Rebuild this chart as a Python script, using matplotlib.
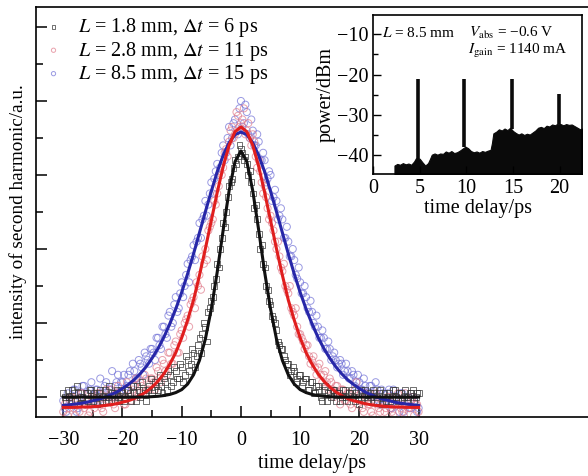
import numpy as np
import matplotlib
matplotlib.use("Agg")
import matplotlib.pyplot as plt
from matplotlib.ticker import FixedLocator, NullFormatter

plt.rcParams['font.family'] = ['Liberation Serif', 'DejaVu Serif']
plt.rcParams['mathtext.fontset'] = 'stix'

# ---------------- data: main autocorrelation traces ----------------
delay_pts = np.linspace(-30, 30, 121)       # measured delay grid (scan 1), ps
delay_pts2 = np.linspace(-29.75, 29.75, 120)  # measured delay grid (scan 2), ps
delay_fit = np.linspace(-30, 30, 61)        # fit curve grid, ps

labels = [r'$L$ = 1.8 mm, $\Delta t$ = 6 ps',
          r'$L$ = 2.8 mm, $\Delta t$ = 11 ps',
          r'$L$ = 8.5 mm, $\Delta t$ = 15 ps']

sh_18mm = [0.01, -0.01, 0.00, 0.02, -0.01, 0.01, 0.00, -0.02, 0.01, 0.02,
           -0.01, 0.00, 0.01, -0.01, 0.02, 0.00, -0.01, 0.01, 0.02, -0.01,
           0.01, 0.00, 0.02, -0.01, 0.01, 0.03, 0.00, 0.02, -0.01, 0.03,
           0.01, 0.04, 0.02, 0.03, 0.05, 0.02, 0.06, 0.04, 0.07, 0.05,
           0.08, 0.06, 0.10, 0.09, 0.12, 0.11, 0.16, 0.17, 0.19, 0.23,
           0.26, 0.30, 0.36, 0.40, 0.47, 0.50, 0.57, 0.59, 0.64, 0.65,
           0.67, 0.64, 0.63, 0.61, 0.55, 0.52, 0.44, 0.41, 0.35, 0.29,
           0.25, 0.21, 0.18, 0.14, 0.13, 0.10, 0.09, 0.07, 0.07, 0.05,
           0.06, 0.04, 0.05, 0.02, 0.04, 0.01, 0.03, 0.00, 0.02, -0.01,
           0.01, 0.02, -0.01, 0.01, 0.00, 0.02, -0.01, 0.01, 0.00, 0.01,
           -0.02, 0.01, 0.02, -0.01, 0.00, 0.01, -0.01, 0.02, 0.00, -0.01,
           0.01, 0.00, 0.02, -0.01, 0.01, 0.00, -0.01, 0.01, 0.02, 0.00, 0.01]
sh_18mm_b = [0.00, 0.02, -0.01, 0.01, 0.03, -0.02, 0.00, 0.01, -0.01, 0.02,
             0.01, -0.02, 0.02, 0.00, -0.01, 0.03, 0.01, -0.01, 0.00, 0.02,
             -0.01, 0.02, 0.01, 0.03, -0.01, 0.02, 0.04, 0.01, 0.02, 0.05,
             0.02, 0.03, 0.06, 0.01, 0.04, 0.07, 0.03, 0.08, 0.05, 0.09,
             0.04, 0.11, 0.07, 0.13, 0.08, 0.14, 0.12, 0.20, 0.15, 0.24,
             0.27, 0.32, 0.35, 0.43, 0.46, 0.54, 0.58, 0.62, 0.63, 0.68,
             0.66, 0.65, 0.60, 0.58, 0.51, 0.48, 0.40, 0.36, 0.30, 0.26,
             0.22, 0.20, 0.15, 0.13, 0.11, 0.09, 0.06, 0.08, 0.04, 0.06,
             0.03, 0.05, 0.02, 0.04, 0.01, 0.03, 0.02, -0.01, 0.03, 0.01,
             0.00, 0.02, 0.01, -0.01, 0.02, 0.00, 0.01, 0.02, -0.01, 0.00,
             0.02, 0.00, -0.01, 0.01, 0.02, 0.00, 0.01, -0.02, 0.01, 0.00,
             -0.01, 0.02, 0.00, 0.01, -0.01, 0.02, 0.00, 0.01, -0.01, 0.01]

sh_28mm = [-0.04, -0.01, -0.03, 0.00, -0.05, -0.02, 0.01, -0.03, -0.01, -0.04,
           0.00, -0.02, 0.01, -0.03, 0.00, -0.01, 0.02, -0.02, 0.01, -0.01,
           0.01, -0.02, 0.02, -0.01, 0.03, 0.00, 0.04, 0.01, 0.05, 0.02,
           0.05, 0.02, 0.07, 0.04, 0.09, 0.06, 0.12, 0.09, 0.15, 0.12,
           0.18, 0.20, 0.22, 0.25, 0.27, 0.31, 0.33, 0.38, 0.40, 0.45,
           0.47, 0.53, 0.55, 0.61, 0.62, 0.67, 0.69, 0.73, 0.71, 0.76,
           0.74, 0.78, 0.72, 0.70, 0.71, 0.65, 0.64, 0.58, 0.57, 0.51,
           0.49, 0.45, 0.40, 0.38, 0.34, 0.30, 0.28, 0.24, 0.22, 0.19,
           0.17, 0.15, 0.14, 0.11, 0.10, 0.08, 0.08, 0.06, 0.06, 0.04,
           0.05, 0.02, 0.03, 0.01, 0.02, -0.01, 0.01, -0.02, 0.00, 0.04,
           -0.01, -0.03, 0.01, -0.02, -0.04, 0.00, -0.02, -0.04, -0.01, -0.03,
           0.00, -0.04, -0.02, 0.01, -0.03, -0.05, -0.01, -0.03, 0.00, -0.02, -0.04]
sh_28mm_b = [-0.02, -0.05, 0.00, -0.03, -0.01, -0.04, 0.01, -0.02, -0.05, 0.00,
             -0.03, 0.01, -0.02, -0.04, 0.02, -0.01, 0.00, -0.03, 0.03, 0.00,
             -0.02, 0.04, 0.00, 0.02, 0.05, 0.01, 0.03, 0.06, 0.02, 0.05,
             0.04, 0.08, 0.05, 0.10, 0.07, 0.12, 0.09, 0.14, 0.12, 0.17,
             0.16, 0.21, 0.19, 0.26, 0.24, 0.30, 0.29, 0.36, 0.37, 0.46,
             0.48, 0.52, 0.57, 0.60, 0.66, 0.65, 0.72, 0.70, 0.77, 0.73,
             0.75, 0.71, 0.74, 0.68, 0.69, 0.62, 0.61, 0.55, 0.54, 0.48,
             0.47, 0.42, 0.42, 0.35, 0.36, 0.29, 0.30, 0.23, 0.24, 0.17,
             0.16, 0.13, 0.14, 0.09, 0.11, 0.06, 0.09, 0.04, 0.07, 0.02,
             0.04, 0.00, 0.03, -0.02, 0.02, -0.01, 0.01, -0.03, 0.02, -0.02,
             0.01, -0.04, 0.00, -0.02, -0.05, 0.01, -0.03, -0.01, -0.04, 0.00,
             -0.03, -0.05, 0.00, -0.02, -0.04, 0.01, -0.03, -0.01, -0.05, -0.02]

sh_85mm = [-0.01, -0.04, 0.00, -0.02, 0.02, -0.03, 0.01, 0.03, -0.01, 0.02,
           -0.02, 0.02, -0.01, 0.01, 0.03, 0.00, 0.02, 0.00, 0.04, 0.01,
           0.04, 0.02, 0.06, 0.03, 0.07, 0.05, 0.09, 0.06, 0.11, 0.09,
           0.13, 0.10, 0.16, 0.13, 0.19, 0.16, 0.23, 0.20, 0.27, 0.24,
           0.31, 0.30, 0.36, 0.37, 0.41, 0.42, 0.47, 0.48, 0.53, 0.52,
           0.58, 0.59, 0.63, 0.62, 0.68, 0.66, 0.73, 0.70, 0.75, 0.71,
           0.80, 0.74, 0.77, 0.70, 0.72, 0.68, 0.69, 0.64, 0.64, 0.59,
           0.60, 0.54, 0.53, 0.49, 0.48, 0.43, 0.42, 0.38, 0.37, 0.32,
           0.31, 0.28, 0.27, 0.23, 0.23, 0.19, 0.19, 0.16, 0.16, 0.13,
           0.13, 0.11, 0.10, 0.09, 0.09, 0.07, 0.07, 0.05, 0.06, 0.04,
           0.04, 0.02, 0.03, 0.01, 0.03, 0.00, 0.02, -0.02, 0.01, -0.01,
           0.02, -0.03, 0.00, -0.02, 0.01, -0.04, -0.01, -0.03, 0.00, -0.02, -0.03]
sh_85mm_b = [-0.03, 0.01, -0.02, 0.02, -0.04, 0.00, 0.03, -0.02, 0.01, 0.04,
             -0.01, 0.02, 0.05, 0.00, 0.04, 0.02, 0.07, 0.03, 0.06, 0.04,
             0.06, 0.03, 0.07, 0.09, 0.05, 0.10, 0.08, 0.12, 0.10, 0.13,
             0.12, 0.16, 0.14, 0.19, 0.17, 0.22, 0.19, 0.25, 0.23, 0.28,
             0.27, 0.33, 0.31, 0.38, 0.37, 0.43, 0.43, 0.49, 0.49, 0.55,
             0.55, 0.61, 0.60, 0.66, 0.64, 0.70, 0.68, 0.74, 0.72, 0.78,
             0.73, 0.79, 0.71, 0.75, 0.68, 0.71, 0.64, 0.66, 0.58, 0.61,
             0.53, 0.56, 0.48, 0.51, 0.43, 0.46, 0.38, 0.40, 0.33, 0.35,
             0.28, 0.30, 0.24, 0.26, 0.20, 0.22, 0.16, 0.18, 0.13, 0.15,
             0.10, 0.12, 0.08, 0.10, 0.06, 0.09, 0.05, 0.07, 0.03, 0.06,
             0.02, 0.05, 0.01, 0.03, 0.00, 0.04, -0.01, 0.02, -0.02, 0.01,
             -0.03, 0.02, -0.01, -0.04, 0.01, -0.02, 0.00, -0.03, -0.01, -0.04]

fit_18mm = [0, 0, 0, 0, 0, 0, 0, 0, 0, 0, 0, 0, 0, 0,
            0.000, 0.001, 0.002, 0.004, 0.007, 0.012, 0.020, 0.035, 0.060, 0.099,
            0.157, 0.238, 0.338, 0.451, 0.557, 0.636, 0.665, 0.636, 0.557, 0.451,
            0.338, 0.238, 0.157, 0.099, 0.060, 0.035, 0.020, 0.012, 0.007, 0.004,
            0.002, 0.001, 0.000, 0, 0, 0, 0, 0, 0, 0, 0, 0, 0, 0, 0, 0, 0]

fit_28mm = [-0.028, -0.028, -0.028, -0.027, -0.027, -0.026, -0.025, -0.023, -0.021, -0.018,
            -0.014, -0.010, -0.004, 0.004, 0.014, 0.027, 0.043, 0.063, 0.089, 0.120,
            0.160, 0.208, 0.262, 0.329, 0.401, 0.477, 0.553, 0.623, 0.680, 0.717,
            0.730,
            0.717, 0.680, 0.623, 0.553, 0.477, 0.401, 0.329, 0.262, 0.208, 0.160,
            0.120, 0.089, 0.063, 0.043, 0.027, 0.014, 0.004, -0.004, -0.010, -0.014,
            -0.018, -0.021, -0.023, -0.025, -0.026, -0.027, -0.027, -0.028, -0.028, -0.028]

fit_85mm = [-0.023, -0.021, -0.019, -0.017, -0.014, -0.010, -0.006, -0.001, 0.006, 0.013,
            0.023, 0.034, 0.047, 0.063, 0.082, 0.105, 0.131, 0.162, 0.198, 0.238,
            0.283, 0.333, 0.387, 0.444, 0.501, 0.556, 0.609, 0.653, 0.687, 0.709,
            0.716,
            0.709, 0.687, 0.653, 0.609, 0.556, 0.501, 0.444, 0.387, 0.333, 0.283,
            0.238, 0.198, 0.162, 0.131, 0.105, 0.082, 0.063, 0.047, 0.034, 0.023,
            0.013, 0.006, -0.001, -0.006, -0.010, -0.014, -0.017, -0.019, -0.021, -0.023]

x_ticks = [-30, -20, -10, 0, 10, 20, 30]

# ---------------- data: inset spectrum ----------------
floor_x = [2.3, 2.6, 2.9, 3.2, 3.5, 3.8, 4.1, 4.4, 4.6, 5.0, 5.3, 5.6, 5.9, 6.1, 6.3,
           6.6, 6.9, 7.2, 7.5, 7.8, 8.1, 8.4, 8.7, 9.0, 9.3, 9.6, 9.9, 10.2, 10.5,
           10.8, 11.1, 11.4, 11.7, 12.0, 12.3, 12.6, 12.75, 12.9, 13.2, 13.5, 13.8,
           14.1, 14.4, 14.7, 15.0, 15.3, 15.6, 15.9, 16.2, 16.5, 16.8, 17.1, 17.4,
           17.7, 18.0, 18.3, 18.6, 18.9, 19.2, 19.5, 19.8, 20.1, 20.4, 20.7, 21.0,
           21.3, 21.6, 21.9, 22.2, 22.4]
floor_dbm = [-42.6, -42.2, -42.4, -42.0, -42.3, -42.1, -42.4, -41.6, -40.8, -40.9,
             -41.8, -42.6, -42.0, -41.0, -39.9, -39.6, -39.9, -39.6, -39.7, -39.1,
             -39.4, -39.0, -39.5, -39.3, -38.9, -38.4, -37.9, -38.3, -39.0, -39.3,
             -39.1, -39.4, -39.0, -39.2, -38.9, -38.7, -37.0, -34.6, -34.2, -33.6,
             -33.9, -33.4, -33.8, -33.2, -34.0, -34.5, -34.9, -34.6, -35.0, -34.7,
             -34.9, -34.4, -33.9, -33.2, -33.0, -33.3, -32.7, -32.9, -32.4, -32.6,
             -32.2, -32.3, -32.6, -32.3, -32.5, -32.4, -32.8, -33.2, -33.6, -33.4]
spike_x = [4.8, 9.8, 14.9, 19.9]
spike_dbm = [-21.0, -21.0, -21.2, -24.8]
spike_base = [-41.0, -38.0, -33.4, -32.4]

# ---------------- figure ----------------
fig = plt.figure(figsize=(5.88, 4.76), dpi=100)
ax = fig.add_axes([36/588, 1-417/476, 1-36/588, (417-7)/476])

col_k, col_r, col_b = '#111111', '#e01e1e', '#2727a8'
ec_k, ec_r, ec_b = '#333333', '#e07a8a', '#6f6fd6'

h_b = ax.scatter(delay_pts, sh_85mm, s=26, marker='o', facecolors='none',
                 edgecolors=ec_b, linewidths=0.7, alpha=0.7, zorder=2)
ax.scatter(delay_pts2, sh_85mm_b, s=26, marker='o', facecolors='none',
           edgecolors=ec_b, linewidths=0.7, alpha=0.7, zorder=2)
h_r = ax.scatter(delay_pts, sh_28mm, s=26, marker='o', facecolors='none',
                 edgecolors=ec_r, linewidths=0.7, alpha=0.7, zorder=2)
ax.scatter(delay_pts2, sh_28mm_b, s=26, marker='o', facecolors='none',
           edgecolors=ec_r, linewidths=0.7, alpha=0.7, zorder=2)
h_k = ax.scatter(delay_pts, sh_18mm, s=18, marker='s', facecolors='none',
                 edgecolors=ec_k, linewidths=0.7, alpha=0.7, zorder=3)
ax.scatter(delay_pts2, sh_18mm_b, s=18, marker='s', facecolors='none',
           edgecolors=ec_k, linewidths=0.7, alpha=0.7, zorder=3)

ax.plot(delay_fit, fit_85mm, color=col_b, lw=2.2, zorder=4)
ax.plot(delay_fit, fit_28mm, color=col_r, lw=2.2, zorder=4)
ax.plot(delay_fit, fit_18mm, color=col_k, lw=2.2, zorder=5)

ax.set_xlim(-34.6, 58.6)
ax.set_ylim(-0.054, 1.054)
ax.spines['right'].set_visible(False)
for s in ['left', 'bottom', 'top']:
    ax.spines[s].set_linewidth(1.2)

ax.xaxis.set_major_locator(FixedLocator(x_ticks))
ax.xaxis.set_minor_locator(FixedLocator([-25, -15, -5, 5, 15, 25]))
ax.yaxis.set_major_locator(FixedLocator([0, 0.2, 0.4, 0.6, 0.8, 1.0]))
ax.yaxis.set_minor_locator(FixedLocator([0.1, 0.3, 0.5, 0.7, 0.9]))
ax.yaxis.set_major_formatter(NullFormatter())
ax.tick_params(axis='both', which='major', direction='in', length=8, width=1.1,
               labelsize=14.5, top=False, right=False)
ax.tick_params(axis='both', which='minor', direction='in', length=5, width=1.1,
               top=False, right=False)
ax.tick_params(axis='x', pad=10)
ax.set_xlabel('time delay/ps', fontsize=14.5, labelpad=3)
ax.set_ylabel('intensity of second harmonic/a.u.', fontsize=13.8)
ax.yaxis.set_label_coords(-0.016, 0.5)

ax.legend([h_k, h_r, h_b], labels, loc='upper left',
          bbox_to_anchor=(0.008, 0.99), frameon=False, fontsize=14.5,
          handlelength=0.8, handletextpad=0.8, labelspacing=0.02,
          borderaxespad=0.0, borderpad=0.25, markerscale=0.6)

# ---------------- inset ----------------
ins = fig.add_axes([373/588, 1-174/476, (582-373)/588, (174-15)/476])
ins.fill_between(floor_x, floor_dbm, -50, color='#0a0a0a', lw=0.8, edgecolor='#0a0a0a')
ins.vlines(spike_x, spike_base, spike_dbm, color='#0a0a0a', lw=2.6)
ins.set_xlim(0, 22.4)
ins.set_ylim(-44.7, -5.2)
ins.xaxis.set_major_locator(FixedLocator([0, 5, 10, 15, 20]))
ins.yaxis.set_major_locator(FixedLocator([-10, -20, -30, -40]))
ins.yaxis.set_minor_locator(FixedLocator([-15, -25, -35]))
ins.tick_params(axis='both', which='major', direction='in', length=6, width=1.0,
                labelsize=14.5)
ins.tick_params(axis='both', which='minor', direction='in', length=3.5, width=1.0)
for s in ins.spines.values():
    s.set_linewidth(1.2)
ins.set_xlabel('time delay/ps', fontsize=14.5, labelpad=1)
ins.set_ylabel('power/dBm', fontsize=14.5, labelpad=1)
ins.text(0.045, 0.885, r'$L$ = 8.5 mm', transform=ins.transAxes, fontsize=11,
         va='center', ha='left')
ins.text(0.46, 0.89, r'$V_{\rm abs}$ = −0.6 V', transform=ins.transAxes, fontsize=11,
         va='center', ha='left')
ins.text(0.455, 0.775, r'$I_{\rm gain}$ = 1140 mA', transform=ins.transAxes, fontsize=11,
         va='center', ha='left')

fig.savefig('out.png', dpi=100)
